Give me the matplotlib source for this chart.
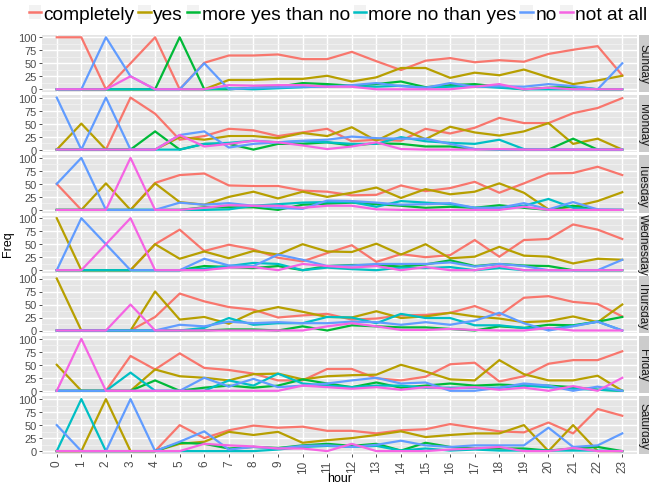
import matplotlib.pyplot as plt
from matplotlib.patches import Rectangle
from matplotlib.lines import Line2D

plt.rcParams['font.family'] = ['Liberation Sans', 'DejaVu Sans']

hours = list(range(24))
days = ['Sunday', 'Monday', 'Tuesday', 'Wednesday', 'Thursday', 'Friday', 'Saturday']
answers = ['completely', 'yes', 'more yes than no', 'more no than yes', 'no', 'not at all']
colors = ['#F8766D', '#B79F00', '#00BA38', '#00BFC4', '#619CFF', '#F564E3']

# rows follow the order of `answers`, columns are hours 0..23
sunday = [
    [100, 100, 0, 50, 100, 0, 51, 65, 65, 67, 58, 58, 72, 54, 37, 55, 60, 52, 56, 53, 68, 76, 83, 27],
    [0, 0, 0, 0, 0, 0, 0, 18, 18, 20, 20, 26, 15, 23, 41, 41, 22, 32, 27, 38, 23, 10, 17, 26],
    [0, 0, 0, 0, 0, 100, 0, 0, 3, 5, 12, 10, 7, 10, 15, 4, 8, 10, 5, 0, 3, 5, 0, 0],
    [0, 0, 0, 0, 0, 0, 0, 2, 0, 2, 4, 6, 6, 5, 7, 3, 5, 6, 3, 0, 0, 0, 0, 0],
    [0, 0, 100, 25, 0, 0, 50, 0, 3, 4, 5, 5, 8, 12, 6, 3, 12, 5, 6, 5, 10, 6, 0, 50],
    [0, 0, 0, 25, 0, 0, 0, 8, 7, 8, 8, 5, 5, 0, 0, 0, 0, 5, 10, 0, 3, 0, 0, 0],
]
monday = [
    [0, 0, 0, 100, 69, 19, 26, 40, 37, 26, 33, 40, 16, 19, 17, 40, 31, 42, 61, 51, 51, 70, 80, 99],
    [0, 50, 0, 0, 0, 24, 19, 26, 26, 22, 32, 26, 43, 17, 40, 20, 44, 33, 27, 35, 51, 11, 21, 0],
    [0, 0, 0, 0, 35, 0, 11, 11, 0, 11, 11, 14, 8, 12, 11, 6, 6, 1, 0, 0, 0, 21, 0, 0],
    [0, 0, 0, 0, 0, 0, 11, 13, 17, 14, 16, 14, 11, 11, 24, 16, 13, 11, 19, 1, 0, 0, 0, 0],
    [100, 0, 100, 0, 0, 28, 35, 4, 11, 14, 17, 19, 25, 22, 21, 21, 11, 1, 0, 0, 0, 0, 0, 0],
    [0, 0, 0, 0, 0, 28, 6, 11, 17, 14, 8, 1, 6, 14, 1, 0, 0, 0, 1, 0, 0, 0, 0, 0],
]
tuesday = [
    [50, 0, 0, 0, 52, 67, 70, 47, 46, 46, 37, 35, 28, 29, 47, 36, 42, 54, 33, 51, 70, 71, 83, 67],
    [0, 0, 51, 0, 51, 15, 10, 25, 35, 22, 35, 25, 33, 43, 23, 40, 30, 35, 51, 33, 1, 6, 17, 34],
    [0, 0, 0, 0, 0, 0, 5, 5, 5, 0, 10, 12, 14, 11, 8, 4, 6, 4, 9, 4, 0, 8, 0, 0],
    [0, 0, 0, 0, 0, 0, 0, 1, 8, 11, 14, 15, 15, 6, 17, 14, 11, 4, 4, 8, 21, 4, 0, 0],
    [50, 100, 0, 0, 0, 14, 10, 13, 8, 4, 2, 18, 17, 14, 10, 11, 13, 4, 4, 13, 1, 15, 1, 0],
    [0, 0, 0, 100, 0, 0, 4, 9, 8, 8, 4, 8, 8, 1, 0, 0, 0, 0, 0, 6, 0, 0, 0, 0],
]
wednesday = [
    [0, 0, 0, 0, 50, 78, 37, 49, 40, 24, 17, 33, 48, 16, 31, 25, 29, 58, 26, 58, 60, 88, 78, 60],
    [100, 0, 0, 0, 50, 22, 36, 23, 37, 30, 50, 36, 35, 51, 30, 50, 23, 26, 45, 28, 26, 13, 22, 20],
    [0, 0, 0, 0, 0, 0, 8, 6, 4, 8, 0, 8, 10, 10, 7, 11, 19, 8, 12, 9, 8, 0, 0, 0],
    [0, 0, 0, 0, 0, 0, 3, 8, 14, 12, 0, 5, 2, 0, 5, 4, 6, 0, 4, 0, 0, 0, 0, 0],
    [0, 100, 50, 0, 0, 0, 22, 9, 8, 30, 20, 8, 9, 12, 12, 12, 15, 7, 12, 8, 0, 0, 0, 20],
    [0, 0, 50, 100, 0, 0, 0, 5, 6, 0, 12, 8, 5, 8, 0, 6, 0, 0, 8, 0, 0, 0, 0, 0],
]
thursday = [
    [0, 0, 0, 0, 26, 71, 56, 45, 40, 25, 29, 32, 21, 23, 29, 30, 34, 47, 29, 63, 66, 55, 51, 27],
    [100, 0, 0, 0, 75, 21, 26, 13, 35, 45, 36, 26, 25, 37, 24, 27, 34, 27, 23, 16, 18, 27, 16, 50],
    [0, 0, 0, 0, 0, 0, 0, 2, 2, 0, 8, 0, 10, 8, 6, 6, 3, 0, 8, 5, 11, 10, 17, 26],
    [0, 0, 0, 0, 0, 0, 5, 24, 11, 14, 14, 26, 25, 14, 32, 24, 24, 10, 10, 5, 3, 9, 17, 0],
    [0, 0, 0, 0, 0, 11, 8, 17, 14, 16, 14, 14, 17, 16, 11, 16, 11, 19, 34, 14, 0, 8, 17, 0],
    [0, 0, 0, 50, 0, 0, 0, 0, 0, 0, 0, 8, 14, 8, 1, 1, 3, 1, 0, 0, 5, 0, 0, 0],
]
friday = [
    [0, 0, 0, 67, 41, 72, 44, 40, 33, 20, 20, 42, 42, 24, 20, 27, 51, 54, 18, 28, 52, 59, 59, 76],
    [50, 0, 0, 0, 41, 28, 25, 20, 32, 33, 22, 28, 30, 31, 50, 37, 22, 20, 59, 32, 20, 20, 29, 0],
    [0, 0, 0, 0, 20, 0, 6, 10, 6, 10, 22, 14, 7, 16, 6, 10, 14, 10, 12, 10, 10, 7, 2, 0],
    [0, 0, 0, 35, 0, 0, 0, 20, 10, 33, 14, 10, 7, 10, 10, 6, 6, 6, 6, 10, 7, 4, 2, 0],
    [0, 0, 0, 0, 0, 0, 25, 8, 23, 7, 10, 14, 20, 25, 14, 16, 0, 0, 6, 14, 10, 0, 8, 0],
    [0, 100, 0, 0, 0, 0, 0, 0, 0, 0, 10, 7, 4, 7, 2, 7, 4, 7, 2, 6, 0, 9, 0, 25],
]
saturday = [
    [0, 0, 0, 0, 0, 50, 25, 40, 49, 45, 47, 39, 39, 34, 40, 42, 52, 45, 38, 36, 55, 34, 81, 68],
    [0, 0, 100, 0, 0, 14, 18, 37, 31, 37, 16, 21, 25, 31, 38, 27, 31, 34, 34, 50, 0, 50, 0, 0],
    [0, 0, 0, 0, 0, 16, 14, 5, 8, 6, 11, 14, 10, 14, 1, 16, 8, 5, 5, 5, 1, 5, 8, 0],
    [0, 100, 0, 0, 0, 0, 0, 0, 0, 3, 8, 10, 8, 10, 1, 5, 1, 3, 1, 1, 1, 1, 1, 0],
    [50, 0, 0, 100, 0, 18, 38, 3, 8, 5, 10, 11, 8, 12, 20, 11, 8, 11, 11, 11, 45, 8, 11, 34],
    [0, 0, 0, 0, 0, 0, 14, 11, 9, 5, 5, 0, 14, 0, 0, 0, 3, 5, 8, 0, 0, 6, 0, 0],
]
day_data = [sunday, monday, tuesday, wednesday, thursday, friday, saturday]

W, H = 649, 485
fig = plt.figure(figsize=(W / 100, H / 100), dpi=100)

# panel geometry in pixels
left, right = 42, 637
top0, ph, step = 35.7, 57.2, 60.3
strip_l, strip_w = 639, 20

for i, (day, rows) in enumerate(zip(days, day_data)):
    top = top0 + i * step
    ax = fig.add_axes([left / W, 1 - (top + ph) / H, (right - left) / W, ph / H])
    ax.set_facecolor('#E5E5E5')
    for s in ax.spines.values():
        s.set_visible(False)
    ax.set_xlim(-0.6, 23.6)
    ax.set_ylim(-5, 105)
    ax.set_yticks([0, 25, 50, 75, 100])
    ax.set_yticks([12.5, 37.5, 62.5, 87.5], minor=True)
    ax.set_xticks(hours)
    ax.grid(True, which='major', color='white', lw=1.0)
    ax.grid(True, which='minor', axis='y', color='#F2F2F2', lw=0.6)
    ax.set_axisbelow(True)
    ax.tick_params(axis='y', which='major', labelsize=8, colors='#333333',
                   length=2.5, width=0.6, pad=1.5, labelcolor='#4D4D4D')
    ax.tick_params(axis='y', which='minor', length=0)
    if i == len(days) - 1:
        ax.tick_params(axis='x', labelsize=8.5, labelrotation=90, colors='#333333',
                       length=2.5, width=0.6, pad=1.5, labelcolor='#4D4D4D')
    else:
        ax.tick_params(axis='x', length=0, labelbottom=False)

    for vals, c in zip(rows, colors):
        ax.plot(hours, vals, color=c, lw=1.6, solid_joinstyle='round')

    sax = fig.add_axes([strip_l / W, 1 - (top + ph) / H, strip_w / W, ph / H])
    sax.set_facecolor('#CCCCCC')
    sax.set_xticks([])
    sax.set_yticks([])
    for s in sax.spines.values():
        s.set_visible(False)
    fig.text(643 / W, 1 - (top + ph / 2) / H, day, rotation=-90, fontsize=8.5,
             ha='center', va='center', color='#1A1A1A')

fig.text(340 / W, 1 - 479 / H, 'hour', fontsize=9, ha='center', va='center')
fig.text(8 / W, 1 - 244 / H, 'Freq', fontsize=9, ha='center', va='center', rotation=90)

handles = [(Rectangle((0, 0), 1, 1, facecolor='#F2F2F2', edgecolor='none'),
            Line2D([0], [0], color=c, lw=1.8)) for c in colors]
fig.legend(handles, answers, loc='center', bbox_to_anchor=(338 / W, 1 - 15 / H),
           ncol=6, frameon=False, fontsize=13.8, handlelength=0.65, handleheight=0.75,
           handletextpad=0.12, columnspacing=0.2, borderaxespad=0, borderpad=0)

fig.savefig('out.png', dpi=100)
